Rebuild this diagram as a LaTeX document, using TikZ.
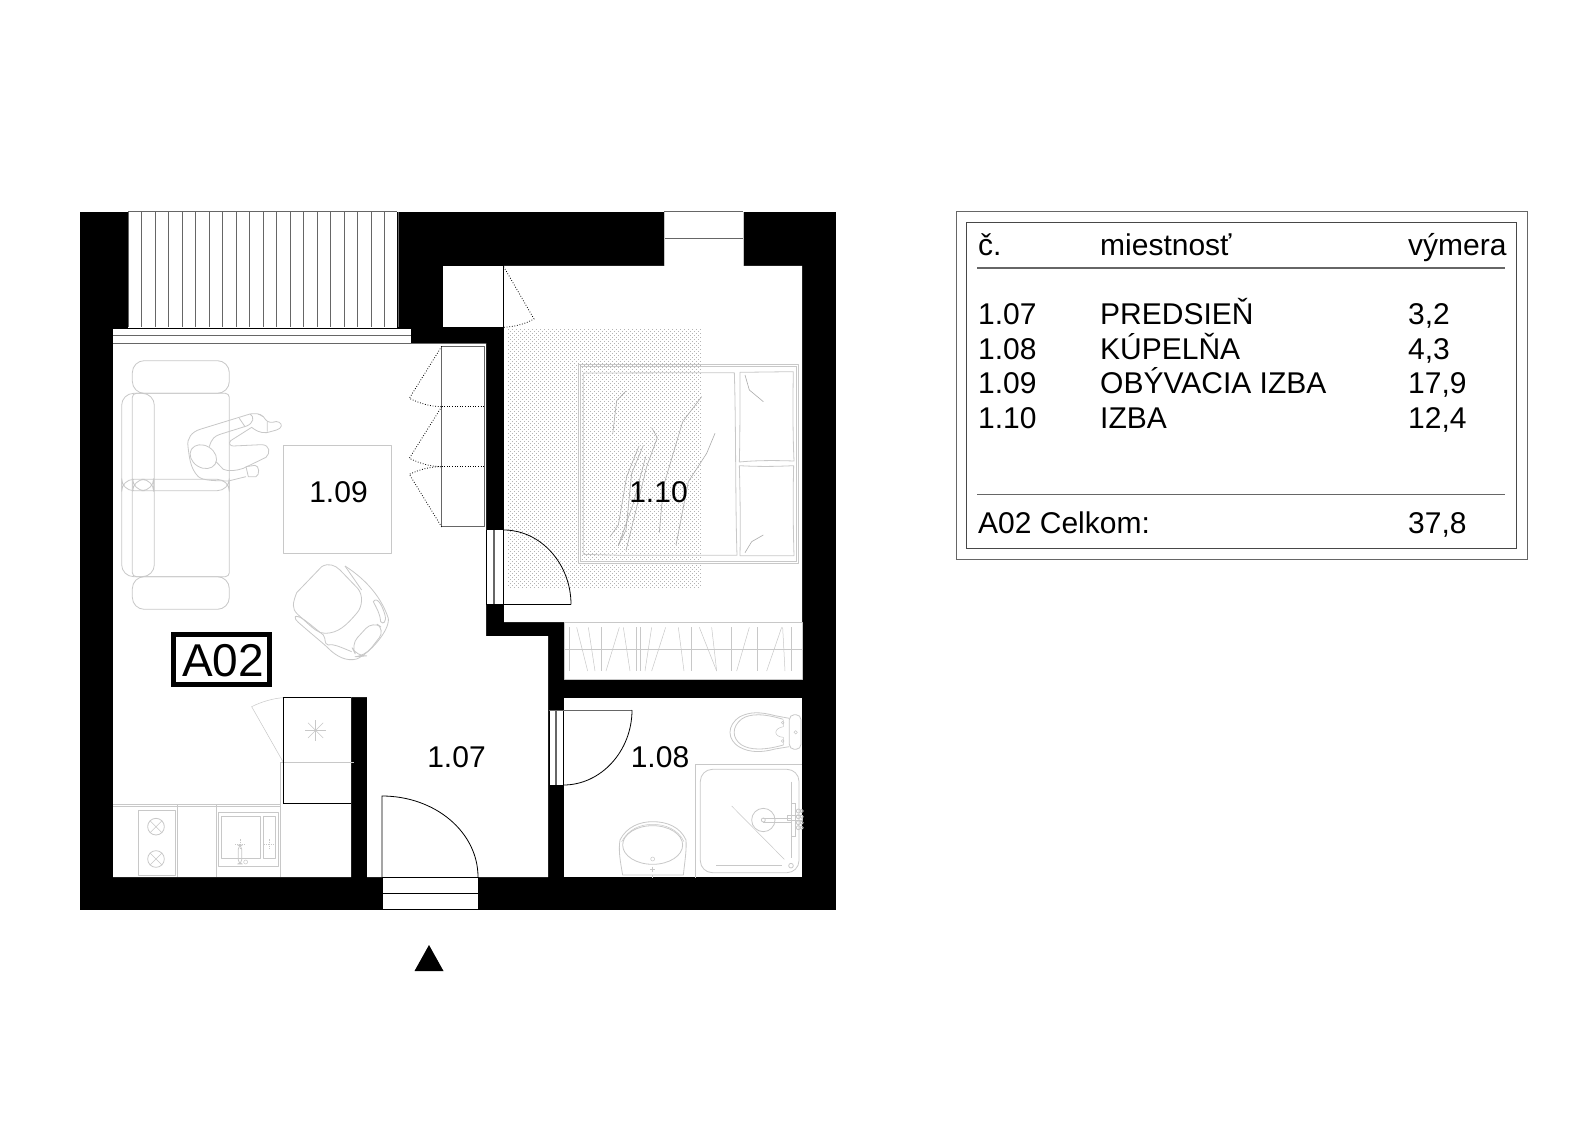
\documentclass[tikz,border=0pt]{standalone}
\usepackage{fontspec}
\setmainfont{Liberation Sans}
\definecolor{fur}{HTML}{C8C8C8}
\definecolor{mid}{HTML}{666666}
\definecolor{rugdot}{HTML}{B4B4B4}
\definecolor{crease}{HTML}{ABABAB}
\tikzset{
  zm/.style 2 args={shift={(#1,#2)},x=0.33333pt,y=-0.33333pt},
  furn/.style={draw=fur,line width=0.8pt,line join=round},
  fine/.style={draw=fur,line width=0.5pt},
  creaseline/.style={draw=crease,line width=0.6pt},
  wallfill/.style={fill=black,draw=none},
  clear/.style={fill=white,draw=none},
  edge/.style={draw=black,line width=0.8pt},
  midline/.style={draw=mid,line width=1pt},
  swing/.style={draw=black,line width=0.8pt,dash pattern=on 0.8pt off 1.8pt},
  roomlabel/.style={inner sep=0pt,font=\fontsize{30}{30}\selectfont,text=black},
  tabletext/.style={anchor=base west,inner sep=0pt,font=\fontsize{30}{30}\selectfont,text=black},
}
\begin{document}
\begin{tikzpicture}[x=1pt,y=-1pt]
\useasboundingbox (0,0) rectangle (1596,1126);
% walls
\fill[wallfill] (80,212) rectangle (836,910);
% rooms
\fill[clear] (113,343) -- (486,343) -- (486,636) -- (548,636) -- (548,877) -- (367,877) -- (367,697) -- (351,697) -- (351,877) -- (113,877) -- cycle;
\fill[clear] (504,266) -- (802,266) -- (802,679) -- (564,679) -- (564,622) -- (504,622) -- cycle;
\fill[clear] (443,266) rectangle (504,327);
\fill[clear] (564,698) rectangle (802,877);
% balcony window
\fill[clear] (128,212) rectangle (397,328);
\fill[clear] (113,328) rectangle (411,343);
\foreach \k in {0,...,20} {\draw[midline] ({128+13.5*\k},212) -- ({128+13.5*\k},327);}
\draw[midline] (128,212) -- (397,212);
\draw[edge] (113,328) -- (411,328);
\draw[midline] (113,335) -- (411,335);
\draw[midline] (113,343) -- (486,343);
% top window
\fill[clear] (664,212) rectangle (743,266);
\draw[midline] (664,212) -- (743,212);
\draw[midline] (664,239) -- (743,239);
\draw[fur] (664,212) -- (664,266) (743,212) -- (743,266);
% entrance door
\fill[clear] (382,877) rectangle (478,909);
\draw[edge] (382,877) -- (478,877) -- (478,909) -- (382,909) -- cycle;
\draw[edge] (382,893) -- (478,893);
\draw[edge] (382,877) -- (382,796) .. controls (435,796) and (478,832) .. (478,877);
% rug: stippled dots
\foreach \y in {329,333,...,585} {
  \fill[rugdot] \foreach \x in {508,512,...,700} {(\x,\y) rectangle ++(0.8,0.8)};
  \fill[rugdot] \foreach \x in {510,514,...,698} {(\x,\y+2) rectangle ++(0.8,0.8)};
}
% bedroom door
\fill[clear] (486,530) rectangle (504,604);
\draw[edge] (486,530) -- (486,604);
\draw[mid,line width=1.2pt] (494,530) -- (494,604);
\draw[edge] (503.5,530) -- (503.5,605);
\draw[edge] (486,604.5) -- (571,604.5);
\draw[edge] (503.5,530) .. controls (541,530) and (571,564) .. (571,604.5);
% bathroom door
\fill[clear] (549,710) rectangle (564,785);
\draw[mid,line width=1.2pt] (556,710) -- (556,785);
\draw[edge] (549,710) -- (549,785) (563.5,710) -- (563.5,785);
\draw[midline] (549,710) -- (632,710);
\draw[edge] (632,710) .. controls (632,751) and (601,785) .. (563.5,785);
% bed
\begin{scope}[zm={490}{340}]
\draw[furn] (265,73) rectangle (925,670);
\draw[fine] (272,80) rectangle (919,663);
\draw[furn] (285,99) -- (733,98) .. controls (738,250) and (736,500) .. (741,646) -- (400,646) -- (280,643) -- (280,99) -- cycle;
\draw[furn] (750,97) -- (910,95) .. controls (908,200) and (909,300) .. (912,363) .. controls (850,361) and (800,361) .. (748,366) .. controls (750,300) and (750,200) .. (750,97) -- cycle;
\draw[furn] (748,377) .. controls (800,380) and (850,380) .. (911,377) .. controls (909,450) and (909,550) .. (912,647) -- (750,647) .. controls (752,550) and (750,450) .. (748,377) -- cycle;
\draw[creaseline] (408,153) -- (380,182) -- (368,283);
\draw[creaseline] (635,170) -- (578,245) -- (520,440) -- (508,578);
\draw[creaseline] (675,280) -- (650,340) -- (595,425) -- (558,615);
\draw[creaseline] (485,263) -- (502,293) -- (470,380) -- (408,632);
\draw[creaseline] (447,318) -- (410,410) -- (385,555) -- (360,590);
\draw[creaseline] (460,316) -- (425,400) -- (408,570) -- (385,617);
\draw[creaseline] (467,350) -- (430,490) -- (385,617);
\draw[creaseline] (765,105) -- (778,150) -- (820,185);
\draw[creaseline] (820,585) -- (785,605) -- (765,638);
\end{scope}
% closet by the bedroom
\draw[edge] (503.5,266.5) -- (503.5,327);
\begin{scope}[zm={430}{190}]
\draw[swing] (221,230) -- (312,387) .. controls (285,402) and (255,410) .. (221,412);
\end{scope}
% living room: sofa, person, table, wardrobe
\begin{scope}[zm={60}{190}]
\draw[furn,rounded corners=12] (217,610) rectangle (508,512);
\draw[furn,rounded corners=12] (217,1160) rectangle (508,1258);
\draw[furn,rounded corners=12] (185,610) rectangle (283,1160);
\draw[furn,rounded corners=4] (217,610) rectangle (508,1160);
\draw[furn,rounded corners=12] (185,868) rectangle (508,902);
\draw[furn,rounded corners=12] (218,868) rectangle (281,902);
% person
\draw[furn] (448,770) .. controls (455,745) and (465,738) .. (480,733) -- (560,708) .. controls (580,700) and (585,680) .. (570,672) -- (420,718) .. controls (395,726) and (380,745) .. (384,770) .. controls (388,800) and (390,835) .. (415,860) .. controls (430,873) and (470,872) .. (505,873) -- (558,860);
\draw[furn,rotate around={-32:(430,800)}] (430,800) ellipse (42 and 33);
\draw[furn] (538,685) -- (555,710);
\draw[furn] (570,672) .. controls (585,670) and (600,670) .. (610,680) .. controls (620,695) and (625,697) .. (637,697) .. controls (655,690) and (665,700) .. (664,708) .. controls (662,720) and (640,722) .. (620,728) .. controls (600,730) and (585,720) .. (575,712) -- (512,752) .. controls (505,760) and (510,768) .. (520,768) -- (605,764) .. controls (630,764) and (632,790) .. (618,802) -- (550,835) .. controls (530,842) and (505,845) .. (490,838) -- (468,815);
\draw[furn] (610,680) -- (595,672) (622,695) -- (622,725);
\draw[furn] (558,830) -- (585,826) .. controls (598,826) and (600,855) .. (588,860) -- (565,860) -- (558,830);
% table
\draw[furn] (670,765) rectangle (995,1090);
\end{scope}
% armchair and fridge
\begin{scope}[zm={60}{550}]
\draw[furn] (785,50) .. controls (805,38) and (825,45) .. (840,60) -- (893,115) .. controls (910,135) and (908,170) .. (890,190) .. controls (860,225) and (835,250) .. (795,250) .. controls (775,250) and (760,235) .. (745,222) -- (712,192) .. controls (695,175) and (698,160) .. (710,128) -- cycle;
\draw[furn] (855,48) .. controls (905,80) and (960,130) .. (985,205) .. controls (990,240) and (930,310) .. (890,327) .. controls (860,335) and (830,320) .. (805,295) .. controls (790,280) and (770,265) .. (715,217) .. controls (700,205) and (705,195) .. (715,200);
\draw[furn] (705,200) .. controls (720,195) and (740,215) .. (790,255) .. controls (800,270) and (790,280) .. (805,285) .. controls (820,280) and (850,295) .. (875,305);
\draw[furn] (855,48) -- (905,120);
\draw[furn] (940,155) .. controls (950,140) and (965,160) .. (975,195) .. controls (980,215) and (970,225) .. (962,215) .. controls (960,190) and (950,175) .. (940,155) -- cycle;
\draw[furn,rounded corners=10] (872,285) -- (938,213) -- (976,240) -- (915,318) -- (890,320) -- cycle;
% fridge
\draw[fine] (660,637) -- (882,637);
\draw[fine] (662,637) -- (662,980);
\draw[fine] (670,637) -- (575,470) .. controls (605,455) and (640,445) .. (670,443);
\draw[edge] (670,443) -- (872,443);
\draw[edge] (670,443) -- (670,760) -- (872,760);
\foreach \a in {0,45,...,315} {\draw[fine] (767,541) -- ++(\a:32);}
\end{scope}
% kitchen
\begin{scope}[zm={110}{780}]
\draw[furn] (10,72) -- (510,72);
\draw[furn] (10,80) -- (510,80);
\draw[furn] (201,72) -- (201,290) (318,72) -- (318,290);
\draw[furn] (85,92) rectangle (197,285);
\foreach \c in {140,237} {
  \draw[furn] (138,\c) circle (25);
  \draw[fine] (120,{\c-18}) -- (156,{\c+18}) (120,{\c+18}) -- (156,{\c-18});
}
\draw[furn] (325,98) rectangle (505,260);
\draw[furn] (335,108) rectangle (452,235);
\draw[furn] (460,108) rectangle (497,235);
\draw[furn,rounded corners=4] (385,195) rectangle (395,252);
\draw[fine] (407,246) circle (6);
\draw[fine,dash pattern=on 1.2pt off 1pt] (375,192) -- (407,192) (391,178) -- (391,208);
\draw[fine,dash pattern=on 1.2pt off 1pt] (462,193) -- (492,193) (477,178) -- (477,210);
\end{scope}
% wardrobe in the living room
\begin{scope}[zm={60}{190}]
\draw[midline] (1145,469) rectangle (1273,1011);
\draw[swing] (1145,650) -- (1273,650) (1145,830) -- (1273,830);
\draw[swing] (1145,469) -- (1048,625) .. controls (1080,640) and (1110,650) .. (1145,650);
\draw[swing] (1145,650) -- (1048,805) .. controls (1080,820) and (1110,830) .. (1145,830);
\draw[swing] (1145,1011) -- (1048,853) .. controls (1080,838) and (1110,830) .. (1145,830);
\end{scope}
% bedroom wardrobe and bathroom
\begin{scope}[zm={430}{550}]
\draw[furn] (403,217) rectangle (1117,388);
\draw[furn] (403,297) -- (1117,297);
\foreach \a/\b in {418/418,440/473,475/495,515/515,568/528,580/600,620/620,630/630,665/645,707/665,745/762,785/785,808/860,845/860,905/905,958/920,982/982,1055/1010,1058/1065,1085/1085} {\draw[fine] (\a,232) -- (\b,363);}
% toilet
\draw[furn,rounded corners=5] (1078,494) rectangle (1113,598);
\draw[fine] (1097,547) circle (5);
\draw[furn] (1078,505) -- (1035,497) .. controls (990,485) and (960,485) .. (930,500) .. controls (890,525) and (890,570) .. (930,592) .. controls (960,608) and (995,608) .. (1035,597) -- (1078,590);
\draw[furn] (1060,508) .. controls (1000,490) and (960,490) .. (935,507) .. controls (905,530) and (905,565) .. (935,585) .. controls (960,600) and (1000,602) .. (1060,585);
\draw[fine] (1060,510) -- (1060,530) .. controls (1030,535) and (1030,560) .. (1060,562) -- (1060,585);
\draw[fine] (1058,518) circle (4) (1058,573) circle (4);
% shower
\draw[furn] (797,980) -- (797,644) -- (1117,644);
\draw[furn,rounded corners=12] (811,658) rectangle (1107,968);
\draw[fine] (905,768) -- (1063,928);
\draw[furn] (1000,810) circle (35);
\draw[furn] (1000,804) -- (1085,804) (1000,816) -- (1085,816);
\draw[furn] (1000,810) circle (6);
\draw[furn] (1083,695) -- (1083,925);
\draw[furn] (1083,947) circle (7);
\draw[furn] (858,946) -- (1056,946);
\draw[fine] (1085,760) rectangle (1097,860);
\draw[furn] (1072,795) rectangle (1118,812);
\draw[furn] (1105,783) circle (6) (1115,783) circle (5) (1105,800) circle (6) (1115,800) circle (5) (1105,818) circle (6) (1115,818) circle (5) (1105,833) circle (6) (1115,833) circle (5);
% basin
\draw[furn] (578,975) .. controls (570,930) and (565,900) .. (570,870) .. controls (590,830) and (630,815) .. (668,815) .. controls (710,815) and (750,830) .. (768,870) .. controls (770,900) and (765,930) .. (760,975) -- cycle;
\draw[furn] (668,885) ellipse (90 and 58);
\draw[fine] (575,875) .. controls (595,838) and (630,823) .. (668,823) .. controls (705,823) and (745,838) .. (762,875);
\draw[fine] (668,927) circle (6);
\draw[fine] (660,957) -- (676,957) (668,950) -- (668,965);
\draw[fine] (668,975) -- (668,984) (797,975) -- (797,984);
\end{scope}
% room labels
\node[roomlabel] (r109) at (338.5,492) {1.09};
\node[roomlabel] (r110) at (658.5,492) {1.10};
\node[roomlabel] (r107) at (456.5,757) {1.07};
\node[roomlabel] (r108) at (660,757) {1.08};
% apartment tag
\fill[wallfill] (171,632) rectangle (272,687);
\fill[clear] (176,637) rectangle (267,682);
\node[inner sep=0pt,font=\fontsize{46}{46}\selectfont] (tag) at (223,661) {A02};
% entrance marker
\fill[black] (429,945) -- (443.5,971) -- (414.5,971) -- cycle;
% table
\draw[midline] (956,212) rectangle (1527,559);
\draw[midline,draw=mid!70!black] (966,223) rectangle (1516,548);
\draw[midline] (977,268) -- (1505,268);
\draw[midline] (977,494) -- (1505,494);
\node[tabletext] (h1) at (978,255) {č.};
\node[tabletext] (h2) at (1100,255) {miestnosť};
\node[tabletext] (h3) at (1408,255) {výmera};
\node[tabletext] (a1) at (978,324) {1.07};
\node[tabletext] (b1) at (1100,324) {PREDSIEŇ};
\node[tabletext] (c1) at (1408,324) {3,2};
\node[tabletext] (a2) at (978,359) {1.08};
\node[tabletext] (b2) at (1100,359) {KÚPELŇA};
\node[tabletext] (c2) at (1408,359) {4,3};
\node[tabletext] (a3) at (978,393) {1.09};
\node[tabletext] (b3) at (1100,393) {OBÝVACIA IZBA};
\node[tabletext] (c3) at (1408,393) {17,9};
\node[tabletext] (a4) at (978,428) {1.10};
\node[tabletext] (b4) at (1100,428) {IZBA};
\node[tabletext] (c4) at (1408,428) {12,4};
\node[tabletext] (t1) at (978,533) {A02 Celkom:};
\node[tabletext] (t2) at (1408,533) {37,8};
\end{tikzpicture}
\end{document}
